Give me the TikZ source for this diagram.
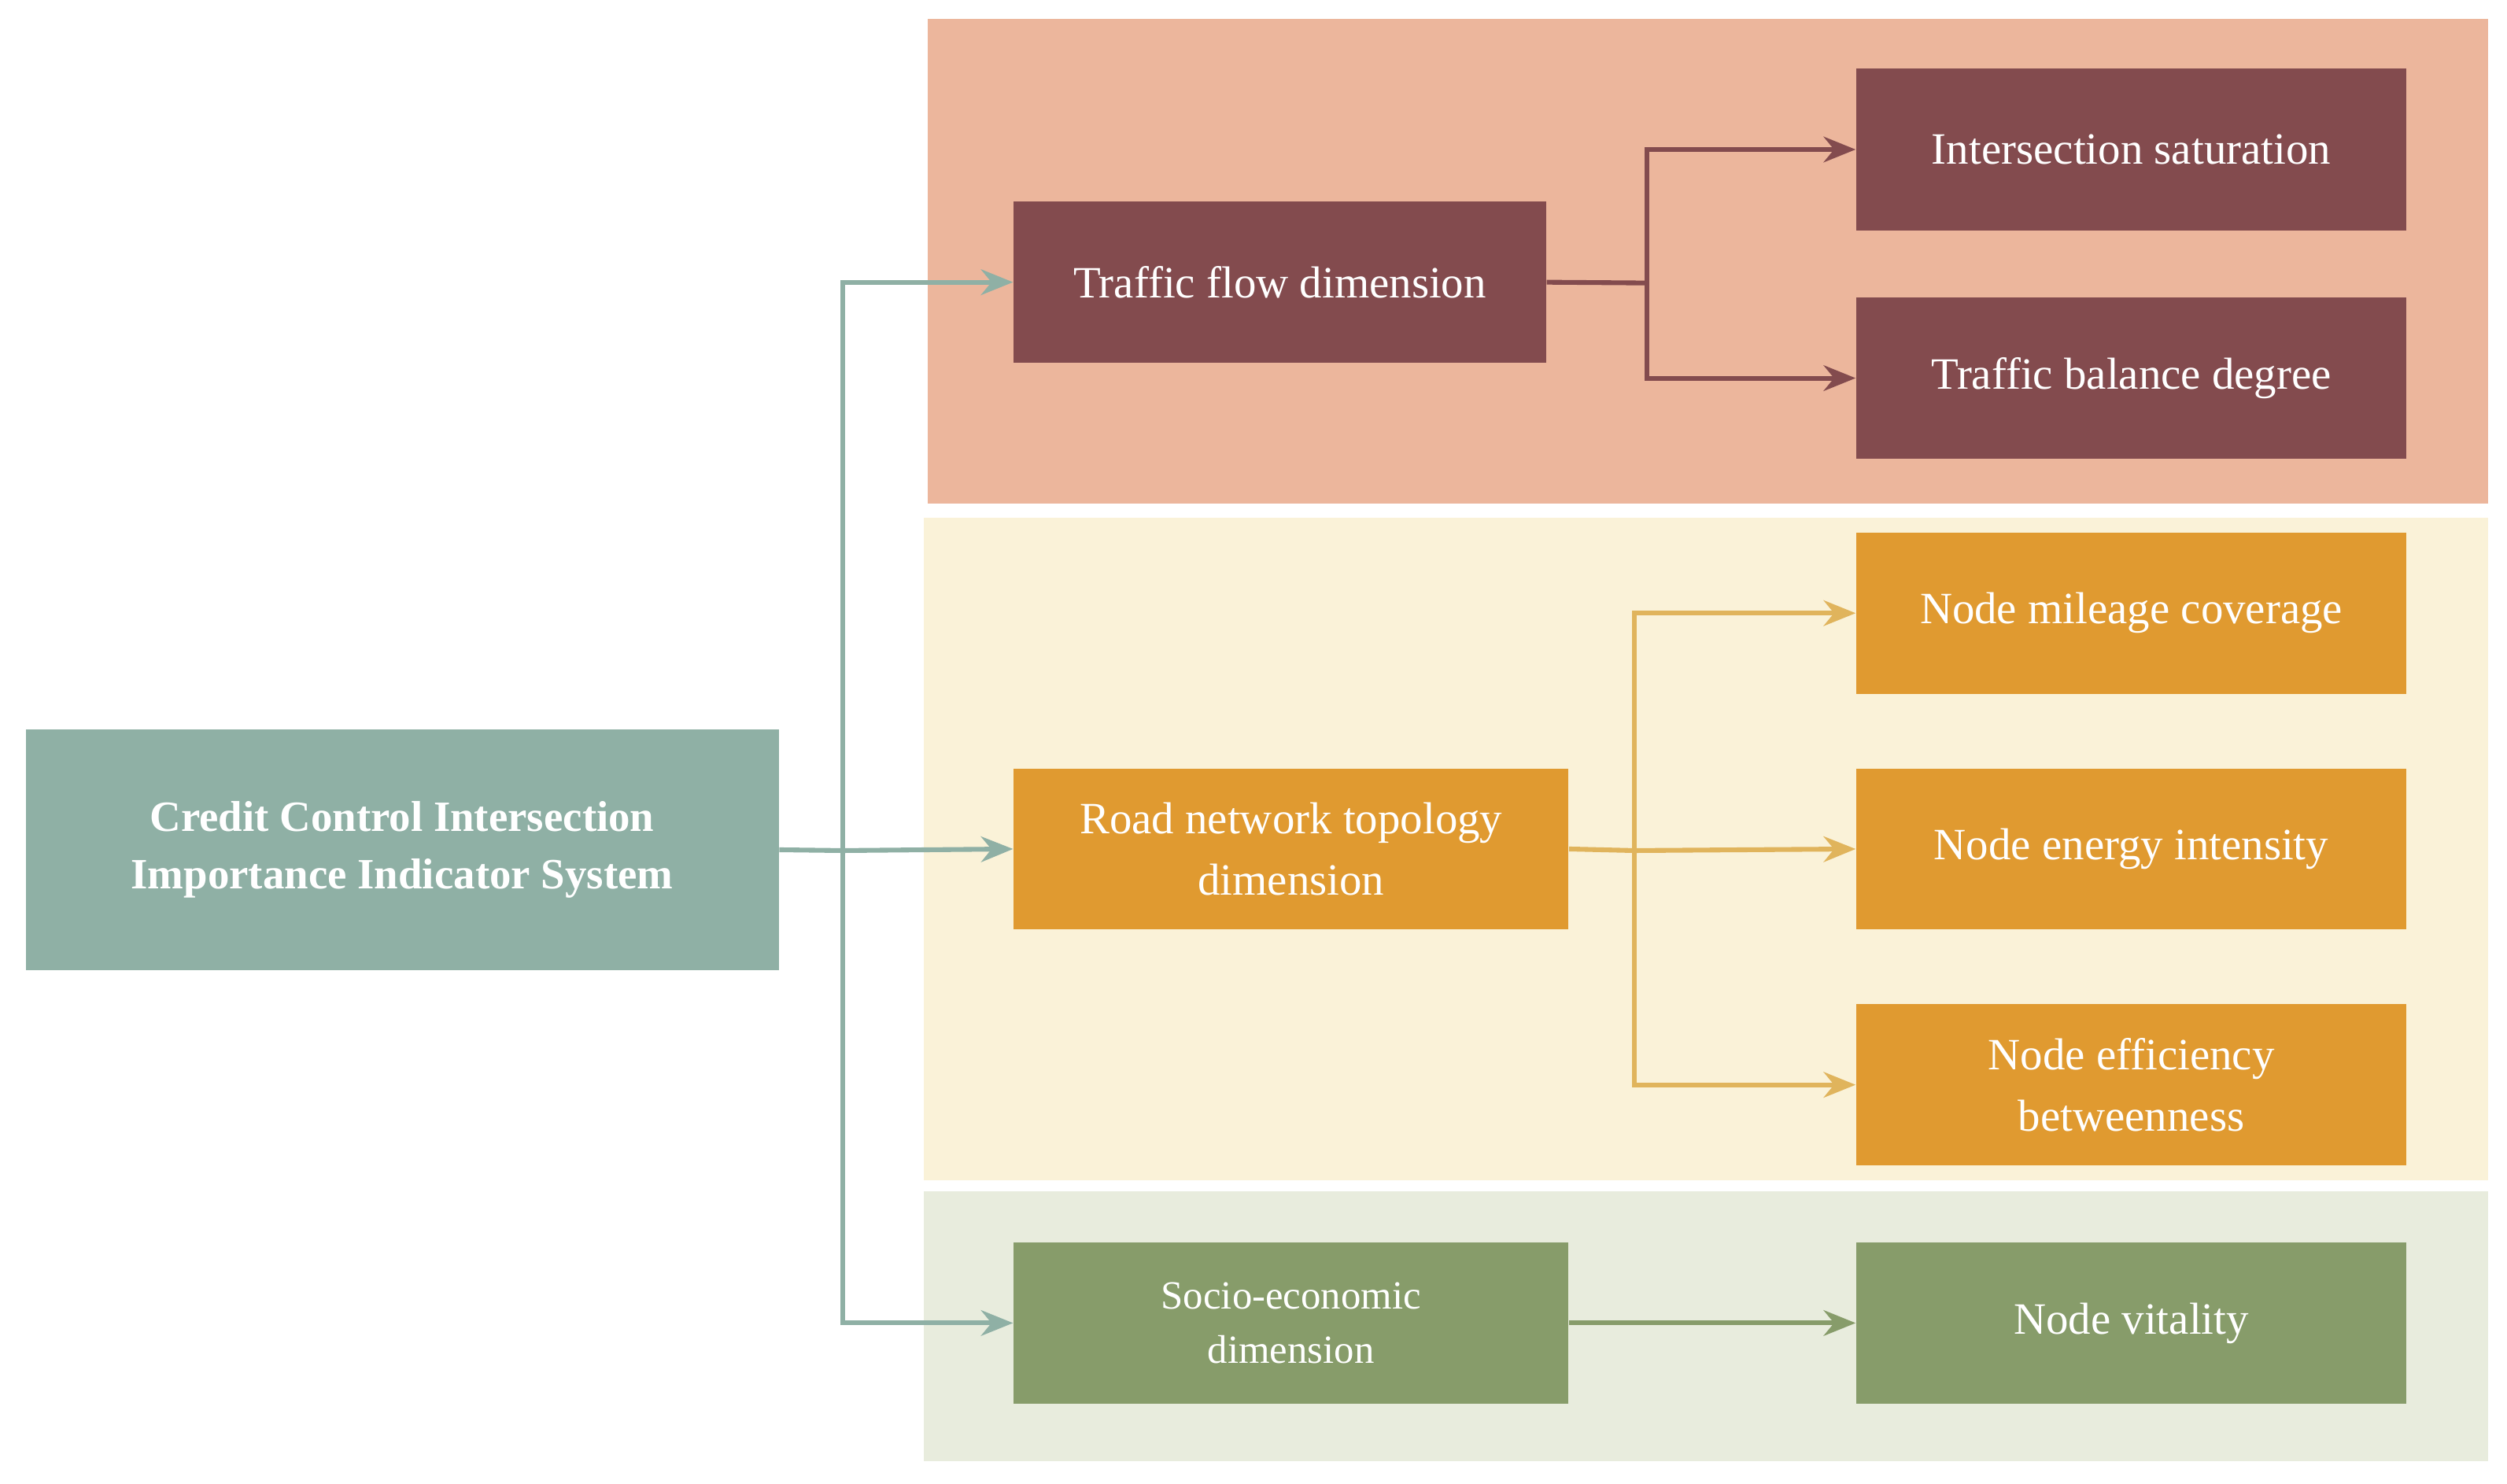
\documentclass[tikz,border=0pt]{standalone}
\usepackage{fontspec}
\setmainfont{Liberation Serif}
\usetikzlibrary{arrows.meta}
\definecolor{bgr}{HTML}{ECB69C}\definecolor{bgy}{HTML}{FAF2D8}\definecolor{bgg}{HTML}{E8ECDD}
\definecolor{cr}{HTML}{834B4E}\definecolor{cy}{HTML}{E09A30}\definecolor{cg}{HTML}{879C6A}
\definecolor{ct}{HTML}{8FB0A5}\definecolor{ly}{HTML}{E0B45C}
\tikzset{box/.style={fill=#1,draw=none,text=white,align=center,font=\fontsize{14}{19}\selectfont},
 arr/.style={draw=#1,line width=1.5pt,-{Stealth[length=10pt,width=8pt]}},
 ln/.style={draw=#1,line width=1.5pt}}
\newcommand{\bx}[6]{\node[box=#6,minimum width={(#3-#2)*0.5pt},minimum height={(#5-#4)*0.5pt},inner sep=0pt] (#1) at ({(#2+#3)/2},{(#4+#5)/2})}
\begin{document}
\begin{tikzpicture}[x=0.5pt,y=-0.5pt]
\useasboundingbox (0,0) rectangle (1568,928);
\fill[bgr] (580,12) rectangle (1556,315);
\fill[bgy] (578,324) rectangle (1556,738);
\fill[bgg] (578,745) rectangle (1556,914);
\bx{root}{16}{487}{456}{607}{ct}[font=\bfseries\fontsize{13.5}{18}\selectfont]{Credit Control Intersection\\Importance Indicator System};
\bx{tf}{634}{967}{126}{227}{cr}{Traffic flow dimension};
\bx{is}{1161}{1505}{43}{144}{cr}{Intersection saturation};
\bx{tb}{1161}{1505}{186}{287}{cr}{Traffic balance degree};
\bx{rn}{634}{981}{481}{581}{cy}{Road network topology\\dimension};
\bx{nm}{1161}{1505}{333}{434}{cy}{Node mileage coverage};
\bx{ne}{1161}{1505}{481}{581}{cy}{Node energy intensity};
\bx{nf}{1161}{1505}{628}{729}{cy}{Node efficiency\\betweenness};
\bx{se}{634}{981}{777}{878}{cg}[font=\fontsize{12.5}{17}\selectfont]{Socio-economic\\dimension};
\bx{nv}{1161}{1505}{777}{878}{cg}{Node vitality};
\coordinate (t) at (527,532);
\draw[ln=ct] (root.east) -- (t);
\draw[arr=ct] (t) |- (tf.west);
\draw[arr=ct] (t) -- (rn.west);
\draw[arr=ct] (t) |- (se.west);
\coordinate (t2) at (1030,177);
\draw[ln=cr] (tf.east) -- (t2);
\draw[arr=cr] (t2) |- (is.west);
\draw[arr=cr] (t2) |- (tb.west);
\coordinate (t3) at (1022,532);
\draw[ln=ly] (rn.east) -- (t3);
\draw[arr=ly] (t3) |- (nm.west);
\draw[arr=ly] (t3) -- (ne.west);
\draw[arr=ly] (t3) |- (nf.west);
\draw[arr=cg] (se.east) -- (nv.west);
\end{tikzpicture}
\end{document}
